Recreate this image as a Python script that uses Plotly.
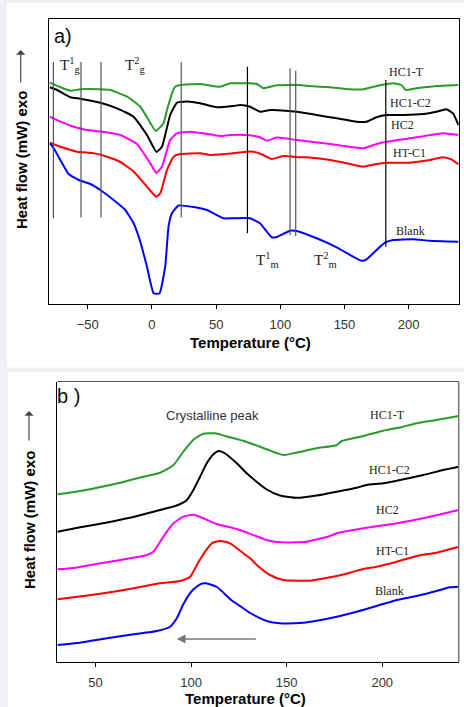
import plotly.graph_objects as go

# ---------------- Panel a data (glass transition / melting region) ----------------
a_green_x = [-79.6, -71.3, -63.5, -55.8, -40.2, -32.4, -19.4, -9.1, -2.6, 3, 9, 11.7, 15.6, 18, 22, 37.6, 53, 61, 68.7, 76.5, 81.7, 86.8, 97, 115, 123, 138.7, 154, 164.6, 175, 188, 194.4, 197.8, 206, 221.7, 238.8]
a_green_y = [221.3, 216.7, 213.3, 214.7, 214.7, 214, 207.3, 197.3, 184, 173, 180.7, 194, 210.7, 217.3, 219, 220, 217.3, 220.7, 220.7, 220.7, 220, 215.7, 218.7, 219, 218, 216.7, 214.7, 214.7, 218, 220.7, 219, 214, 215.7, 218, 219]

a_black_x = [-79.6, -74, -63.5, -55.8, -40.2, -27.2, -14.3, -3.9, 3.5, 7.8, 14.2, 19.4, 22, 29.8, 37.6, 50.6, 63.5, 68.7, 76.5, 84.2, 92, 94.6, 112.8, 128.3, 143.9, 159.5, 167.2, 175, 182.8, 195.7, 211.3, 221.7, 229.4, 234.6, 238.8]
a_black_y = [216.7, 214, 206.7, 205.3, 201.3, 195.7, 187.3, 169, 152, 157.3, 189, 201.3, 202, 202.3, 200.7, 196.7, 198, 199, 197.3, 192.3, 194, 194, 192.3, 189, 185.7, 182.3, 182.3, 186.7, 189, 189, 190, 192.3, 194.7, 190.7, 179]

a_magenta_x = [-79.6, -71.3, -61, -50.6, -40.2, -24.6, -11.7, -1.3, 3.3, 7.8, 14.2, 19.4, 29.8, 40.1, 53.1, 61, 73.9, 84.2, 89.4, 97.2, 112.8, 138.7, 164.6, 175, 182.8, 206.1, 226.8, 238.8]
a_magenta_y = [187.3, 182.3, 177.3, 174, 172.5, 169, 160, 140.7, 131, 137.3, 164, 170.7, 172.3, 170.7, 168, 169, 169, 166.7, 163.3, 166.5, 164, 160, 155.7, 160, 162.3, 166.7, 170.7, 169]

a_red_x = [-79.6, -71.3, -58.3, -45.4, -35, -24.6, -14.3, -3.9, 3.3, 6.5, 11.7, 16.8, 22, 37.6, 45.3, 63.5, 73.9, 79, 86.8, 93.3, 102.4, 115.3, 120.6, 138.7, 151.7, 164.6, 175, 182.8, 200.9, 216.5, 226.8, 233.3, 238.8]
a_red_y = [161.3, 157.3, 152.3, 150.7, 147.3, 142, 132.5, 117.3, 107.3, 110.7, 134, 147.3, 150, 150.7, 149, 150.7, 152.3, 152.3, 149, 145, 148, 146.7, 146.7, 144, 140.7, 137.3, 140, 141.3, 141.3, 144, 146.7, 144.7, 139.7]

a_blue_x = [-79.6, -76.5, -70, -65, -57.1, -48, -40.2, -29.9, -20.8, -14.3, -9.1, -3.9, 1.3, 5.9, 10.3, 12.9, 15.5, 20.7, 32.4, 42.8, 55.7, 63.5, 76.5, 84.2, 93.3, 97.2, 107.6, 112.8, 128.3, 143.9, 156.8, 163.3, 167.2, 175, 181.5, 187.9, 203.5, 216.5, 238.8]
a_blue_y = [160.7, 155.7, 140.7, 130, 124, 120, 114, 104, 94, 80.7, 62.3, 37.3, 10.7, 10.7, 37.3, 77.3, 90.7, 98.5, 97, 94, 85.7, 85.7, 85.7, 80.7, 66.7, 67, 73.3, 73, 65.7, 56.7, 47.3, 43.3, 44.7, 54, 61.3, 64, 64.7, 63.3, 62.3]

# vertical marker lines (Tg / Tm limits) in panel a
vline_x = [-76.8, -55.3, -39.7, 22.8, 74.4, 107.6, 112.0, 182.2]
vline_y0 = [85.7, 86.5, 86.5, 86.7, 70.7, 69.0, 68.0, 57.3]
vline_y1 = [242.0, 242.0, 242.0, 241.7, 237.3, 235.7, 233.3, 224.0]
vline_col = ["#555555", "#555555", "#555555", "#555555", "#000000", "#555555", "#555555", "#000000"]

# ---------------- Panel b data (crystallisation on cooling) ----------------
b_green_x = [30.1, 42, 57.7, 63, 73.4, 83.8, 90.8, 96, 101.2, 106.4, 112.6, 118.7, 129.2, 139.6, 148.3, 155.3, 165.7, 176.2, 178.8, 190.1, 200.5, 211, 218, 228.4, 240]
b_green_y = [167.7, 171, 177, 179.3, 184.5, 189.3, 197, 210.5, 222.3, 228.3, 228.7, 225.5, 220, 212.7, 207, 209.5, 213.7, 217, 221, 226, 231.3, 235.3, 238.7, 242, 246]

b_black_x = [30.1, 42, 56, 63, 69.9, 80.3, 90.8, 94.3, 97.8, 101.2, 104.7, 108.2, 111.7, 114.5, 117.8, 123.9, 129.1, 134.4, 139.6, 146.5, 155.3, 165.7, 176.2, 186.6, 191.8, 200.5, 211, 221.5, 231.9, 240]
b_black_y = [130.3, 134.7, 139.5, 142.3, 145, 150.3, 155.5, 158, 162, 172, 185.3, 198.7, 207.7, 211, 208.5, 198.7, 188.7, 180, 172.5, 166.5, 164.2, 166.5, 170.3, 174.3, 177, 178.7, 182.7, 187, 192, 195.3]

b_magenta_x = [30.1, 38.5, 52.5, 63, 73.4, 76.9, 80.3, 83.8, 87.3, 90.8, 96, 101.2, 106.5, 113.5, 123.9, 132.6, 141.3, 150, 155.3, 160.4, 172.7, 176.2, 190.1, 207.6, 225, 240]
b_magenta_y = [92.7, 94, 98.7, 102, 105.5, 107, 110.3, 120.3, 130.3, 138.7, 145.3, 147.3, 143.7, 138, 133, 127, 121, 119.5, 119.8, 120.3, 126, 128.7, 133.7, 138.7, 145.3, 152]

b_red_x = [30.1, 43.7, 59.4, 73.4, 83.8, 94.3, 99.5, 103, 107.3, 110.8, 115.2, 120.4, 127.4, 130.9, 134.4, 141.3, 148.3, 157, 162.2, 172.7, 183.1, 190.1, 197, 207.6, 218, 228.4, 240]
b_red_y = [62.7, 66, 70.3, 75, 78.7, 81, 85.3, 97, 110.3, 118.7, 121, 118.7, 108.7, 103.7, 97, 87, 82, 81.3, 81.3, 84.7, 89.3, 93, 95.3, 100.3, 106, 109.3, 115.3]

b_blue_x = [30.1, 42, 56, 69.9, 82.1, 89, 92.5, 96, 100.4, 104.7, 107.8, 113.5, 121, 125.6, 130.9, 139.6, 146.5, 158.7, 165.7, 176.2, 186.6, 197, 207.6, 218, 228.4, 235.3, 240]
b_blue_y = [17, 19.3, 23.7, 27.7, 31, 35.3, 43.7, 58, 71, 77.7, 78.7, 75, 62, 56, 49, 41, 38.7, 39.3, 41.3, 45.3, 50.3, 56, 62, 66, 71, 74.7, 75.3]

# cooling-direction arrow in panel b (tail -> head, temperature)
arrow_tail_x, arrow_head_x, arrow_y = 134.7, 92.5, 23

series_names = ["HC1-T", "HC1-C2", "HC2", "HT-C1", "Blank"]
series_colors = ["#2a9a2a", "#000000", "#ff00ff", "#ff0000", "#0000ff"]
ticks_a = [-50, 0, 50, 100, 150, 200]
ticks_b = [50, 100, 150, 200]

W, H = 464, 707
def PX(p):
    return p / W
def PY(p):
    return 1 - p / H

SANS = "Liberation Sans, Arial, sans-serif"
SERIF = "Liberation Serif, Times New Roman, serif"

fig = go.Figure()

a_sets = [(a_green_x, a_green_y), (a_black_x, a_black_y), (a_magenta_x, a_magenta_y), (a_red_x, a_red_y), (a_blue_x, a_blue_y)]
b_sets = [(b_green_x, b_green_y), (b_black_x, b_black_y), (b_magenta_x, b_magenta_y), (b_red_x, b_red_y), (b_blue_x, b_blue_y)]

for (xs, ys), name, col in zip(a_sets, series_names, series_colors):
    fig.add_trace(go.Scatter(x=xs, y=ys, mode="lines", name=name, xaxis="x", yaxis="y",
                             line=dict(color=col, width=2, shape="spline", smoothing=0.4), showlegend=False))
for (xs, ys), name, col in zip(b_sets, series_names, series_colors):
    fig.add_trace(go.Scatter(x=xs, y=ys, mode="lines", name=name, xaxis="x2", yaxis="y2",
                             line=dict(color=col, width=2, shape="spline", smoothing=0.55), showlegend=False))

shapes = []
# white cards on light gray page
shapes.append(dict(type="rect", xref="paper", yref="paper", x0=PX(7), x1=PX(464), y0=PY(367.5), y1=PY(3),
                   fillcolor="white", line=dict(width=0), layer="below"))
shapes.append(dict(type="rect", xref="paper", yref="paper", x0=PX(8), x1=PX(464), y0=PY(707), y1=PY(372.3),
                   fillcolor="white", line=dict(width=0), layer="below"))
for vx, v0, v1, vc in zip(vline_x, vline_y0, vline_y1, vline_col):
    shapes.append(dict(type="line", xref="x", yref="y", x0=vx, x1=vx, y0=v0, y1=v1,
                       line=dict(color=vc, width=1.2)))
# panel b top/right frame (gray)
shapes.append(dict(type="line", xref="x2 domain", yref="y2 domain", x0=0, x1=1, y0=1, y1=1, line=dict(color="#555", width=1)))
shapes.append(dict(type="line", xref="x2 domain", yref="y2 domain", x0=1, x1=1, y0=0, y1=1, line=dict(color="#777", width=1.5)))

ann = []
def txt(t, x, y, size, font=SERIF, color="#222", xanchor="center", yanchor="middle", angle=0, bold=False):
    if bold:
        t = "<b>" + t + "</b>"
    ann.append(dict(text=t, x=PX(x), y=PY(y), xref="paper", yref="paper", showarrow=False,
                    xanchor=xanchor, yanchor=yanchor, textangle=angle,
                    font=dict(family=font, size=size, color=color)))

# panel a texts
txt("a)", 63, 36, 20, font=SANS, color="#111")
txt("T<sup>1</sup><sub>g</sub>", 58, 65, 15, xanchor="left")
txt("T<sup>2</sup><sub>g</sub>", 123, 65, 15, xanchor="left")
txt("T<sup>1</sup><sub>m</sub>", 254, 260, 15, xanchor="left")
txt("T<sup>2</sup><sub>m</sub>", 311.5, 260, 15, xanchor="left")
for name, (lx, ly) in zip(series_names, [(406, 72), (410, 103), (402, 125), (409, 153), (410, 231)]):
    txt(name, lx, ly, 12)
txt("Temperature (°C)", 250, 342.5, 15, font=SANS, color="#000", bold=True)
txt("Heat flow (mW) exo", 21, 160, 15, font=SANS, color="#000", angle=-90, bold=True)

# panel b texts
txt("b )", 68, 396, 20, font=SANS, color="#111")
txt("Crystalline peak", 212, 415.5, 13, font=SANS, color="#333")
for name, (lx, ly) in zip(series_names, [(387, 415), (389.5, 470), (387, 510), (392, 550.5), (389, 590.5)]):
    txt(name, lx, ly, 12)
txt("Temperature (°C)", 245, 698.5, 15, font=SANS, color="#000", bold=True)
txt("Heat flow (mW) exo", 29, 520, 15, font=SANS, color="#000", angle=-90, bold=True)

# "exo" arrows next to the y titles (tail offset in pixels)
for ax_px, tail, head in [(20.7, 84, 50), (29, 442, 411)]:
    ann.append(dict(x=PX(ax_px), y=PY(head), ax=0, ay=tail - head, xref="paper", yref="paper",
                    axref="pixel", ayref="pixel", text="", showarrow=True, arrowhead=1,
                    arrowsize=1.3, arrowwidth=1.2, arrowcolor="#444"))
# cooling arrow in panel b
ann.append(dict(x=arrow_head_x, y=arrow_y, ax=arrow_tail_x, ay=arrow_y, xref="x2", yref="y2",
                axref="x2", ayref="y2", text="", showarrow=True, arrowhead=2, arrowsize=1.1,
                arrowwidth=1.6, arrowcolor="#777"))

axis_common = dict(showgrid=False, zeroline=False, showline=True, linecolor="#000", linewidth=1,
                   ticks="outside", ticklen=4, tickcolor="#000", tickwidth=1,
                   tickfont=dict(family=SANS, size=13, color="#333"))

fig.update_layout(
    width=W, height=H, margin=dict(l=0, r=0, t=0, b=0),
    paper_bgcolor="#eff1f4", plot_bgcolor="rgba(0,0,0,0)",
    xaxis=dict(domain=[PX(49.3), PX(458.7)], range=[-80, 239], anchor="y", tickvals=ticks_a,
               mirror=True, ticklabelstandoff=4, **axis_common),
    yaxis=dict(domain=[PY(304), PY(19)], range=[0, 285], anchor="x", showgrid=False, zeroline=False,
               showline=True, linecolor="#000", linewidth=1, mirror=True, showticklabels=False, ticks=""),
    xaxis2=dict(domain=[PX(57.3), PX(458.7)], range=[30, 240], anchor="y2", tickvals=ticks_b,
                ticklabelstandoff=4, **axis_common),
    yaxis2=dict(domain=[PY(662.3), PY(381.5)], range=[-0.3, 280.5], anchor="x2", showgrid=False,
                zeroline=False, showline=True, linecolor="#000", linewidth=1, showticklabels=False, ticks=""),
    shapes=shapes, annotations=ann,
)

fig.write_html("out.html", config={"displayModeBar": False},
               post_script="document.body.style.margin='0';document.body.style.overflow='hidden';")
